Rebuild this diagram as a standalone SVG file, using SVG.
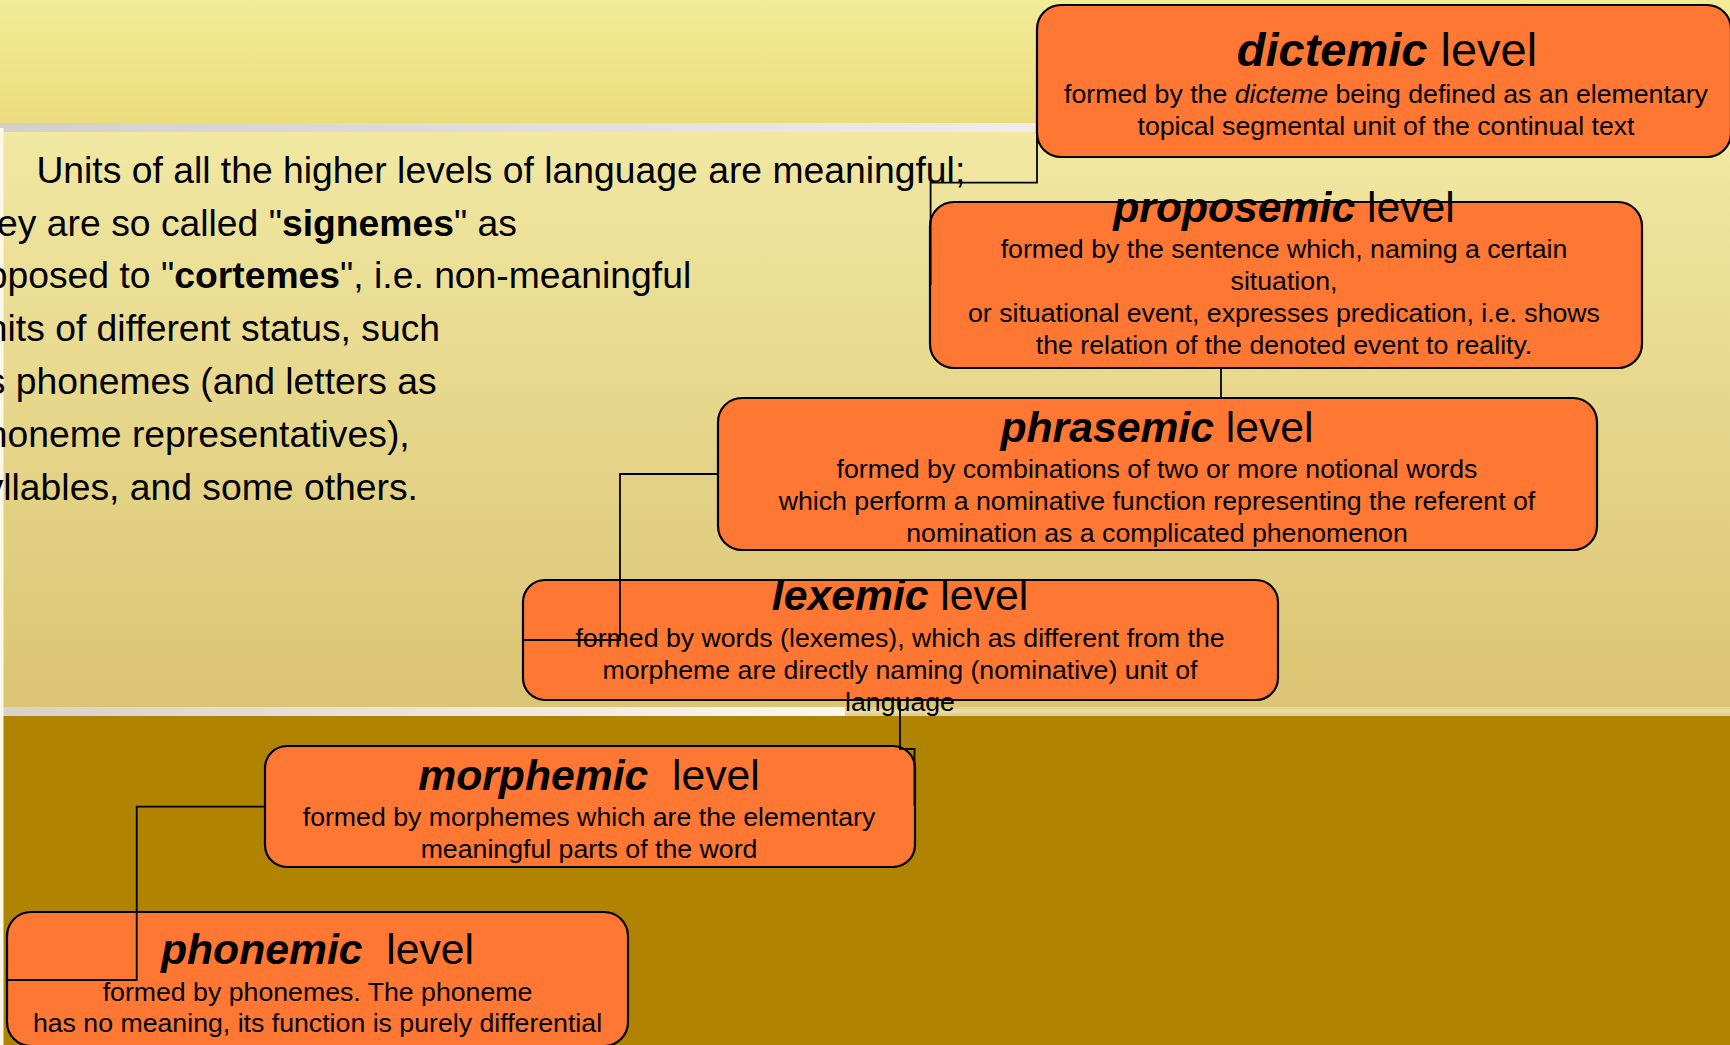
<svg xmlns="http://www.w3.org/2000/svg" width="1730" height="1045" viewBox="0 0 1730 1045">
  <defs>
    <linearGradient id="topBand" x1="0" y1="0" x2="0" y2="1">
      <stop offset="0" stop-color="#f2ec97"/>
      <stop offset="1" stop-color="#ecdc7e"/>
    </linearGradient>
    <linearGradient id="panel" x1="0" y1="0" x2="0" y2="1">
      <stop offset="0" stop-color="#f1e8a2"/>
      <stop offset="1" stop-color="#dbc473"/>
    </linearGradient>
    <linearGradient id="stripeTop" x1="0" y1="0" x2="1" y2="0">
      <stop offset="0" stop-color="#d3d0ca"/>
      <stop offset="1" stop-color="#ffffff"/>
    </linearGradient>
    <linearGradient id="stripeBottom" x1="0" y1="0" x2="1" y2="0">
      <stop offset="0" stop-color="#d6d2cb"/>
      <stop offset="1" stop-color="#fdf8ee"/>
    </linearGradient>
    <style>
      text { font-family: "Liberation Sans", Arial, sans-serif; fill: #000; }
      .title { font-size: 42.7px; text-anchor: middle; }
      .title-lg { font-size: 47px; text-anchor: middle; }
      .body { font-size: 26.7px; text-anchor: middle; }
      .para { font-size: 37.3px; }
      .em { font-weight: bold; font-style: italic; }
      .it { font-style: italic; }
      .bold { font-weight: bold; }
      .box { fill: #fe7733; stroke: #000; stroke-width: 2.2; }
      .link { fill: none; stroke: #000; stroke-width: 1.8; }
    </style>
  </defs>

  <!-- background -->
  <rect x="0" y="0" width="1730" height="123" fill="url(#topBand)"/>
  <rect x="0" y="123" width="1730" height="9" fill="url(#stripeTop)"/>
  <rect x="0" y="132" width="1730" height="575" fill="url(#panel)"/>
  <rect x="0" y="707" width="845" height="9" fill="url(#stripeBottom)"/>
  <rect x="845" y="707" width="885" height="9" fill="#e3d194"/>
  <rect x="845" y="709" width="885" height="4" fill="#e9dba6"/>
  <rect x="0" y="716" width="1730" height="329" fill="#b08300"/>
  <rect x="0" y="128" width="3.5" height="917" fill="#fdf7e8"/>

  <!-- introductory paragraph -->
  <g id="intro-text">
    <text class="para" x="36.4" y="182.7">Units of all the higher levels of language are meaningful;</text>
    <text class="para" x="-34" y="235.5">they are so called "<tspan class="bold">signemes</tspan>" as</text>
    <text class="para" x="-34" y="288.3">opposed to "<tspan class="bold">cortemes</tspan>", i.e. non-meaningful</text>
    <text class="para" x="-34" y="341.1">units of different status, such</text>
    <text class="para" x="-34" y="393.9">as phonemes (and letters as</text>
    <text class="para" x="-34" y="446.7">phoneme representatives),</text>
    <text class="para" x="-34" y="499.5">syllables, and some others.</text>
  </g>

  <!-- level nodes -->
  <g id="dictemic">
    <rect class="box" x="1037" y="5" width="694" height="152" rx="24"/>
    <text class="title-lg" x="1387" y="66"><tspan class="em">dictemic</tspan> level</text>
    <text class="body" x="1386" y="102.7">formed by the <tspan class="it">dicteme</tspan> being defined as an elementary</text>
    <text class="body" x="1386" y="135">topical segmental unit of the continual text</text>
  </g>

  <g id="proposemic">
    <rect class="box" x="930" y="202" width="712" height="166" rx="24"/>
    <text class="title" x="1284" y="221.7"><tspan class="em">proposemic</tspan> level</text>
    <text class="body" x="1284" y="257.6">formed by the sentence which, naming a certain</text>
    <text class="body" x="1284" y="289.6">situation,</text>
    <text class="body" x="1284" y="321.6">or situational event, expresses predication, i.e. shows</text>
    <text class="body" x="1284" y="353.6">the relation of the denoted event to reality.</text>
  </g>

  <g id="phrasemic">
    <rect class="box" x="718" y="398" width="879" height="152" rx="24"/>
    <text class="title" x="1157" y="441.7"><tspan class="em">phrasemic</tspan> level</text>
    <text class="body" x="1157" y="477.5">formed by combinations of two or more notional words</text>
    <text class="body" x="1157" y="509.5">which perform a nominative function representing the referent of</text>
    <text class="body" x="1157" y="541.5">nomination as a complicated phenomenon</text>
  </g>

  <g id="lexemic">
    <rect class="box" x="523" y="580" width="755" height="120" rx="22"/>
    <text class="title" x="900" y="610.3"><tspan class="em">lexemic</tspan> level</text>
    <text class="body" x="900" y="647.3">formed by words (lexemes), which as different from the</text>
    <text class="body" x="900" y="679.3">morpheme are directly naming (nominative) unit of</text>
    <text class="body" x="900" y="711.3">language</text>
  </g>

  <g id="morphemic">
    <rect class="box" x="265" y="746" width="650" height="121" rx="22"/>
    <text class="title" x="589" y="790.4" xml:space="preserve"><tspan class="em">morphemic</tspan>  level</text>
    <text class="body" x="589" y="826.1">formed by morphemes which are the elementary</text>
    <text class="body" x="589" y="858">meaningful parts of the word</text>
  </g>

  <g id="phonemic">
    <rect class="box" x="7" y="912" width="621" height="134" rx="24"/>
    <text class="title" x="317.5" y="963.9" xml:space="preserve"><tspan class="em">phonemic</tspan>  level</text>
    <text class="body" x="317.5" y="1000.5">formed by phonemes. The phoneme</text>
    <text class="body" x="317.5" y="1032">has no meaning, its function is purely differential</text>
  </g>

  <!-- elbow connectors between levels -->
  <g id="connectors">
    <path class="link" d="M1037,80 V182.7 H930.6 V285"/>
    <path class="link" d="M1221,368 V398 H1157"/>
    <path class="link" d="M718,474 H620 V640 H523"/>
    <path class="link" d="M900,700 V749 H914.5 V806"/>
    <path class="link" d="M265,806.7 H136.7 V980 H8"/>
  </g>
</svg>
